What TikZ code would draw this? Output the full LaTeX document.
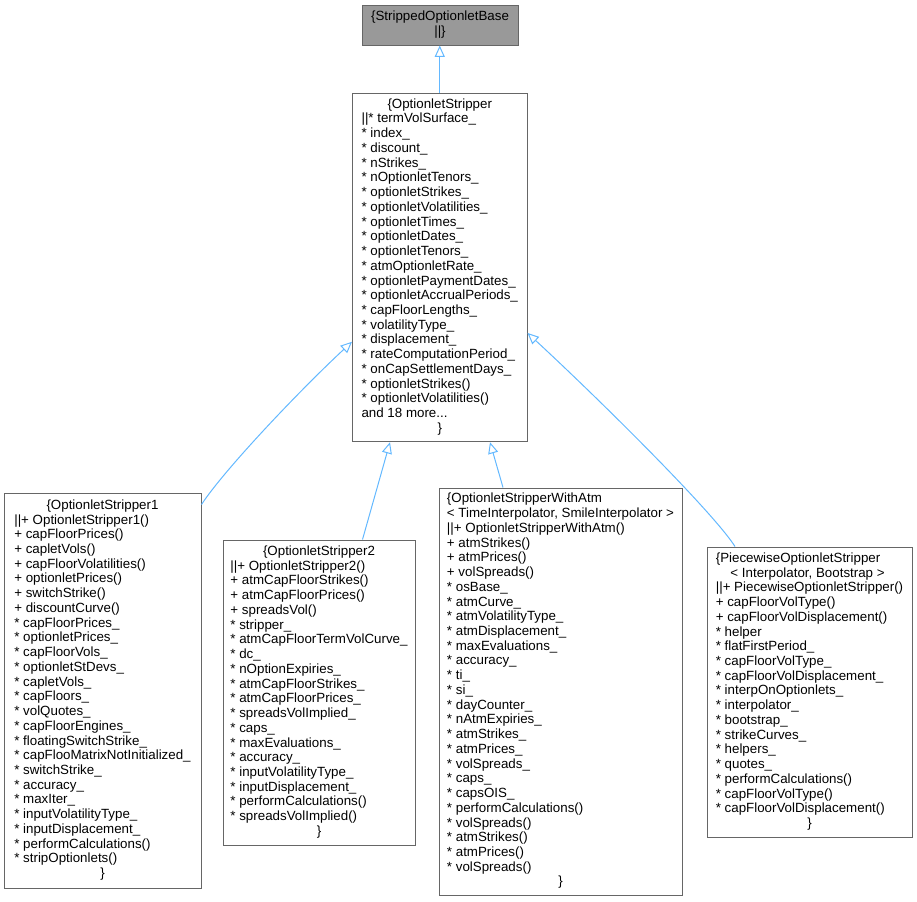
\documentclass[tikz,border=0pt]{standalone}
\usepackage{fontspec}
\setmainfont{Liberation Sans}
\usetikzlibrary{arrows.meta,calc}
\definecolor{edgeblue}{HTML}{63B8FF}
\definecolor{boxline}{HTML}{666666}
\definecolor{basefill}{HTML}{999999}
\newcommand\ctrline[1]{\multicolumn{1}{c}{#1}}
\newcommand\st{{}* }
\tikzset{
  cls/.style={draw=boxline, line width=0.75pt, fill=white, inner sep=0pt,
    font=\fontsize{10}{11.05}\selectfont, anchor=center},
  inh/.style={draw=edgeblue, line width=0.75pt,
    -{Triangle[open,length=8.5pt,width=7.5pt]}}
}
\begin{document}
\begin{tikzpicture}[x=0.75pt,y=-0.75pt]
\useasboundingbox (0,0) rectangle (917,901);

\node[cls, fill=basefill, minimum width=156*0.75pt, minimum height=40*0.75pt] (top) at (440,25)
{\begin{tabular}{@{}c@{}}\{StrippedOptionletBase\\ ||\}\end{tabular}};

\node[cls, minimum width=174.5*0.75pt, minimum height=348.7*0.75pt] (mid) at (439.75,267.35)
{\begin{tabular}{@{}l@{}}
\ctrline{\{OptionletStripper}\\
||* termVolSurface\_\\
\st index\_\\
\st discount\_\\
\st nStrikes\_\\
\st nOptionletTenors\_\\
\st optionletStrikes\_\\
\st optionletVolatilities\_\\
\st optionletTimes\_\\
\st optionletDates\_\\
\st optionletTenors\_\\
\st atmOptionletRate\_\\
\st optionletPaymentDates\_\\
\st optionletAccrualPeriods\_\\
\st capFloorLengths\_\\
\st volatilityType\_\\
\st displacement\_\\
\st rateComputationPeriod\_\\
\st onCapSettlementDays\_\\
\st optionletStrikes()\\
\st optionletVolatilities()\\
and 18 more...\\
\ctrline{\}}
\end{tabular}};

\node[cls, minimum width=197*0.75pt, minimum height=395*0.75pt] (os1) at (102.5,690.5)
{\begin{tabular}{@{}l@{}}
\ctrline{\{OptionletStripper1}\\
||+ OptionletStripper1()\\
+ capFloorPrices()\\
+ capletVols()\\
+ capFloorVolatilities()\\
+ optionletPrices()\\
+ switchStrike()\\
+ discountCurve()\\
\st capFloorPrices\_\\
\st optionletPrices\_\\
\st capFloorVols\_\\
\st optionletStDevs\_\\
\st capletVols\_\\
\st capFloors\_\\
\st volQuotes\_\\
\st capFloorEngines\_\\
\st floatingSwitchStrike\_\\
\st capFlooMatrixNotInitialized\_\\
\st switchStrike\_\\
\st accuracy\_\\
\st maxIter\_\\
\st inputVolatilityType\_\\
\st inputDisplacement\_\\
\st performCalculations()\\
\st stripOptionlets()\\
\ctrline{\}}
\end{tabular}};

\node[cls, minimum width=192*0.75pt, minimum height=305*0.75pt] (os2) at (319,692.5)
{\begin{tabular}{@{}l@{}}
\ctrline{\{OptionletStripper2}\\
||+ OptionletStripper2()\\
+ atmCapFloorStrikes()\\
+ atmCapFloorPrices()\\
+ spreadsVol()\\
\st stripper\_\\
\st atmCapFloorTermVolCurve\_\\
\st dc\_\\
\st nOptionExpiries\_\\
\st atmCapFloorStrikes\_\\
\st atmCapFloorPrices\_\\
\st spreadsVolImplied\_\\
\st caps\_\\
\st maxEvaluations\_\\
\st accuracy\_\\
\st inputVolatilityType\_\\
\st inputDisplacement\_\\
\st performCalculations()\\
\st spreadsVolImplied()\\
\ctrline{\}}
\end{tabular}};

\node[cls, minimum width=243*0.75pt, minimum height=407*0.75pt] (atm) at (560.5,691.5)
{\begin{tabular}{@{}l@{}}
\{OptionletStripperWithAtm\\
< TimeInterpolator, SmileInterpolator >\\
||+ OptionletStripperWithAtm()\\
+ atmStrikes()\\
+ atmPrices()\\
+ volSpreads()\\
\st osBase\_\\
\st atmCurve\_\\
\st atmVolatilityType\_\\
\st atmDisplacement\_\\
\st maxEvaluations\_\\
\st accuracy\_\\
\st ti\_\\
\st si\_\\
\st dayCounter\_\\
\st nAtmExpiries\_\\
\st atmStrikes\_\\
\st atmPrices\_\\
\st volSpreads\_\\
\st caps\_\\
\st capsOIS\_\\
\st performCalculations()\\
\st volSpreads()\\
\st atmStrikes()\\
\st atmPrices()\\
\st volSpreads()\\
\ctrline{\}}
\end{tabular}};

\node[cls, minimum width=205*0.75pt, minimum height=290*0.75pt] (pw) at (809.5,692)
{\begin{tabular}{@{}l@{}}
\{PiecewiseOptionletStripper\\
\hspace{11pt}< Interpolator, Bootstrap >\\
||+ PiecewiseOptionletStripper()\\
+ capFloorVolType()\\
+ capFloorVolDisplacement()\\
\st helper\\
\st flatFirstPeriod\_\\
\st capFloorVolType\_\\
\st capFloorVolDisplacement\_\\
\st interpOnOptionlets\_\\
\st interpolator\_\\
\st bootstrap\_\\
\st strikeCurves\_\\
\st helpers\_\\
\st quotes\_\\
\st performCalculations()\\
\st capFloorVolType()\\
\st capFloorVolDisplacement()\\
\ctrline{\}}
\end{tabular}};

% inheritance connectors
\draw[inh] (mid.north) -- (mid.north |- top.south);
\draw[inh] ($(os1.north east)+(0,12)$) .. controls (224,470) and (300,390) .. ($(mid.west)+(0,74.4)$);
\draw[inh] ($(os2.north)+(43.5,0)$) -- ($(mid.south)+(-49.75,0)$);
\draw[inh] ($(atm.north)+(-57.5,0)$) -- ($(mid.south)+(50.25,0)$);
\draw[inh] ($(pw.north)+(-74.5,0)$) .. controls (713,512) and (600,400) .. ($(mid.east)+(0,65.6)$);
\end{tikzpicture}
\end{document}
